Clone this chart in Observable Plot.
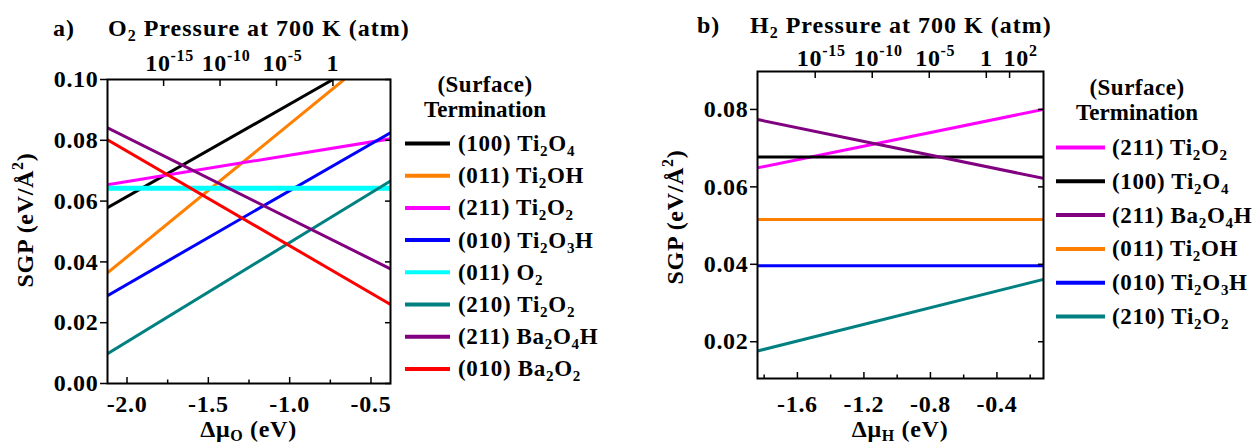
<!DOCTYPE html>
<html>
<head>
<meta charset="utf-8">
<script src="https://cdn.jsdelivr.net/npm/d3@7"></script>
<script src="https://cdn.jsdelivr.net/npm/@observablehq/plot@0.6"></script>
<style>
  html, body { margin: 0; padding: 0; background: #fff; }
  #wrap { position: relative; width: 1254px; height: 446px; overflow: hidden; background: #fff; }
  #wrap svg { position: absolute; overflow: visible; }
</style>
</head>
<body>
<div id="wrap"></div>
<script>
// ---------------- data: panel a (O2 pressure) ----------------
const termsA = ["(100) Ti_2O_4", "(011) Ti_2OH", "(211) Ti_2O_2", "(010) Ti_2O_3H",
                "(011) O_2", "(210) Ti_2O_2", "(211) Ba_2O_4H", "(010) Ba_2O_2"];
const colorsA = ["#000000", "#ff7f00", "#ff00ff", "#0000ff", "#00ffff", "#008080", "#800080", "#ff0000"];
const startMuA  = [-2.12, -2.12, -2.12, -2.12, -2.12, -2.12, -2.12, -2.12];
const startSgpA = [0.0578, 0.0364, 0.0654, 0.0289, 0.0642, 0.0098, 0.0841, 0.0802];
const endMuA    = [-0.734, -0.665, -0.38, -0.38, -0.38, -0.38, -0.38, -0.38];
const endSgpA   = [0.1000, 0.1000, 0.0805, 0.0825, 0.0642, 0.0666, 0.0377, 0.0260];
const xDomainA = [-2.12, -0.38];
const yDomainA = [0, 0.10];
const xTicksA = [-2.0, -1.5, -1.0, -0.5];
const xMinorTicksA = [-1.75, -1.25, -0.75];
const yTicksA = [0, 0.02, 0.04, 0.06, 0.08, 0.10];
const pressureTicksA = [-1.775, -1.428, -1.081, -0.734];
const pressureLabelsA = ["10^{-15}", "10^{-10}", "10^{-5}", "1"];

// ---------------- data: panel b (H2 pressure) ----------------
const termsB = ["(211) Ti_2O_2", "(100) Ti_2O_4", "(211) Ba_2O_4H", "(011) Ti_2OH",
                "(010) Ti_2O_3H", "(210) Ti_2O_2"];
const colorsB = ["#ff00ff", "#000000", "#800080", "#ff7f00", "#0000ff", "#008080"];
const startMuB  = [-1.84, -1.84, -1.84, -1.84, -1.84, -1.84];
const startSgpB = [0.0649, 0.0677, 0.0774, 0.0516, 0.0396, 0.0176];
const endMuB    = [-0.12, -0.12, -0.12, -0.12, -0.12, -0.12];
const endSgpB   = [0.0800, 0.0677, 0.0622, 0.0516, 0.0396, 0.0361];
const xDomainB = [-1.84, -0.12];
const yDomainB = [0.0105, 0.0898];
const xTicksB = [-1.6, -1.2, -0.8, -0.4];
const xMinorTicksB = [-1.8, -1.4, -1.0, -0.6, -0.2];
const yTicksB = [0.02, 0.04, 0.06, 0.08];
const pressureTicksB = [-1.493, -1.150, -0.807, -0.464, -0.324];
const pressureLabelsB = ["10^{-15}", "10^{-10}", "10^{-5}", "1", "10^{2}"];

const FONT = '"Liberation Serif", "Times New Roman", serif';
const FS = 24;

// parse "Ti_2O_4" / "10^{-15}" into parts
function parseRich(str) {
  const parts = [];
  let buf = "";
  for (let i = 0; i < str.length; i++) {
    const c = str[i];
    if (c === "_" || c === "^") {
      if (buf) { parts.push({t: buf, k: 0}); buf = ""; }
      let s = "";
      if (str[i + 1] === "{") {
        const j = str.indexOf("}", i + 2);
        s = str.slice(i + 2, j); i = j;
      } else { s = str[i + 1]; i++; }
      parts.push({t: s, k: c === "_" ? 1 : -1});
    } else buf += c;
  }
  if (buf) parts.push({t: buf, k: 0});
  return parts;
}
function fillRich(textEl, str, size, subShift = 0.22) {
  const sel = d3.select(textEl);
  sel.text(null);
  const parts = parseRich(str);
  let shift = 0;
  const subSize = Math.round(size * 0.66);
  parts.forEach(p => {
    const target = p.k === 1 ? size * subShift : p.k === -1 ? -size * 0.40 : 0;
    const ts = sel.append("tspan").text(p.t);
    if (target !== shift) { ts.attr("dy", target - shift); shift = target; }
    if (p.k !== 0) ts.attr("font-size", subSize);
  });
}

function panel(opts) {
  const idx = d3.range(opts.terms.length);
  const svg = Plot.plot({
    width: opts.width, height: 446,
    marginLeft: opts.ml, marginRight: opts.mr, marginTop: opts.mt, marginBottom: opts.mb,
    style: {fontFamily: FONT, fontWeight: "bold", fontSize: FS + "px", letterSpacing: "0.7px",
            color: "#000", background: "transparent"},
    x: {domain: opts.xDomain, axis: null},
    y: {domain: opts.yDomain, axis: null},
    color: {domain: opts.terms, range: opts.colors},
    marks: [
      Plot.link(idx, {
        x1: i => opts.x0[i], y1: i => opts.y0[i], x2: i => opts.x1[i], y2: i => opts.y1[i],
        stroke: i => opts.terms[i],
        strokeWidth: i => opts.terms[i] === "(011) O_2" ? 5 : 3,
        strokeLinecap: "butt", clip: true
      }),
      Plot.axisY(opts.yTicks, {anchor: "left", tickSize: 7, tickPadding: 2, strokeWidth: 1.5,
        tickFormat: d => d.toFixed(2), fontSize: FS, fontWeight: "bold", fontFamily: FONT}),
      Plot.axisY(opts.yTicks, {anchor: "right", tickSize: -6, strokeWidth: 1.5, tickFormat: () => ""}),
      Plot.axisX(opts.xTicks, {anchor: "bottom", tickSize: -6, tickPadding: opts.bottomPad, strokeWidth: 1.5,
        tickFormat: d => d.toFixed(1), fontSize: FS, fontWeight: "bold", fontFamily: FONT}),
      Plot.axisX(opts.xMinor, {anchor: "bottom", tickSize: -3.5, strokeWidth: 1.5, tickFormat: () => ""}),
      Plot.axisX(opts.pTicks, {anchor: "top", tickSize: -6, tickPadding: opts.topPad, strokeWidth: 1.5,
        tickFormat: d => opts.pLabels[opts.pTicks.indexOf(d)], fontSize: FS, fontWeight: "bold", fontFamily: FONT}),
      Plot.frame({stroke: "#000", strokeWidth: 2})
    ]
  });
  svg.style.left = opts.left + "px";
  svg.style.top = "0px";
  d3.select(svg).selectAll("text").each(function () {
    const t = this.textContent;
    if (t.includes("^")) {
      fillRich(this, t, FS);
      // superscripted pressure labels sit slightly right of their tick, as in the source figure
      this.setAttribute("dx", t === "10^{2}" ? 11 : 6);
    }
  });
  return svg;
}

const wrap = document.getElementById("wrap");
wrap.appendChild(panel({
  left: 0, width: 400, ml: 107, mr: 10, mt: 79, mb: 63,
  terms: termsA, colors: colorsA, x0: startMuA, y0: startSgpA, x1: endMuA, y1: endSgpA,
  xDomain: xDomainA, yDomain: yDomainA, xTicks: xTicksA, xMinor: xMinorTicksA, yTicks: yTicksA,
  pTicks: pressureTicksA, pLabels: pressureLabelsA, bottomPad: 17, topPad: 15
}));
wrap.appendChild(panel({
  left: 650, width: 400, ml: 107, mr: 7, mt: 71, mb: 68,
  terms: termsB, colors: colorsB, x0: startMuB, y0: startSgpB, x1: endMuB, y1: endSgpB,
  xDomain: xDomainB, yDomain: yDomainB, xTicks: xTicksB, xMinor: xMinorTicksB, yTicks: yTicksB,
  pTicks: pressureTicksB, pLabels: pressureLabelsB, bottomPad: 22, topPad: 12
}));

// ---------------- overlay: titles, axis labels, legends ----------------
const ov = d3.select(wrap).append("svg")
  .attr("width", 1254).attr("height", 446)
  .style("left", "0px").style("top", "0px")
  .attr("font-family", FONT).attr("font-weight", "bold").attr("fill", "#000");

function label(x, y, str, size, anchor = "start", rotate = 0, ls = 0.7, subShift = 0.22) {
  const t = ov.append("text")
    .attr("transform", `translate(${x},${y}) rotate(${rotate})`)
    .attr("font-size", size).attr("text-anchor", anchor)
    .attr("letter-spacing", ls);
  fillRich(t.node(), str, size, subShift);
  return t;
}
label(53, 36, "a)", 24, "start", 0, 1);
label(108, 36, "O_2 Pressure at 700 K (atm)", 24, "start", 0, 1);
label(697, 33, "b)", 24, "start", 0, 1);
label(750, 33, "H_2 Pressure at 700 K (atm)", 24, "start", 0, 1);
label(33, 220, "SGP (eV/Å^2)", 24, "middle", -90);
label(683, 217, "SGP (eV/Å^2)", 24, "middle", -90);
label(248.5, 437, "Δμ_O (eV)", 24, "middle", 0, 0.7, 0.16);
label(900, 437, "Δμ_H (eV)", 24, "middle", 0, 0.7, 0.16);

function legend(terms, colors, cx, x0, x1, tx, y0, step, h1, h2) {
  label(cx, h1, "(Surface)", 23, "middle", 0, 0.5);
  label(cx, h2, "Termination", 23, "middle", 0, 0);
  terms.forEach((t, i) => {
    const y = y0 + step * i;
    ov.append("line").attr("x1", x0).attr("x2", x1).attr("y1", y).attr("y2", y)
      .attr("stroke", colors[i]).attr("stroke-width", 4);
    label(tx, y + 7.5, t, 23, "start", 0, 0.7);
  });
}
legend(termsA, colorsA, 485, 405, 450, 458, 143.5, 32.2, 92, 117);
legend(termsB, colorsB, 1137, 1056, 1105, 1112, 147.5, 33.8, 95, 120);
</script>
</body>
</html>
